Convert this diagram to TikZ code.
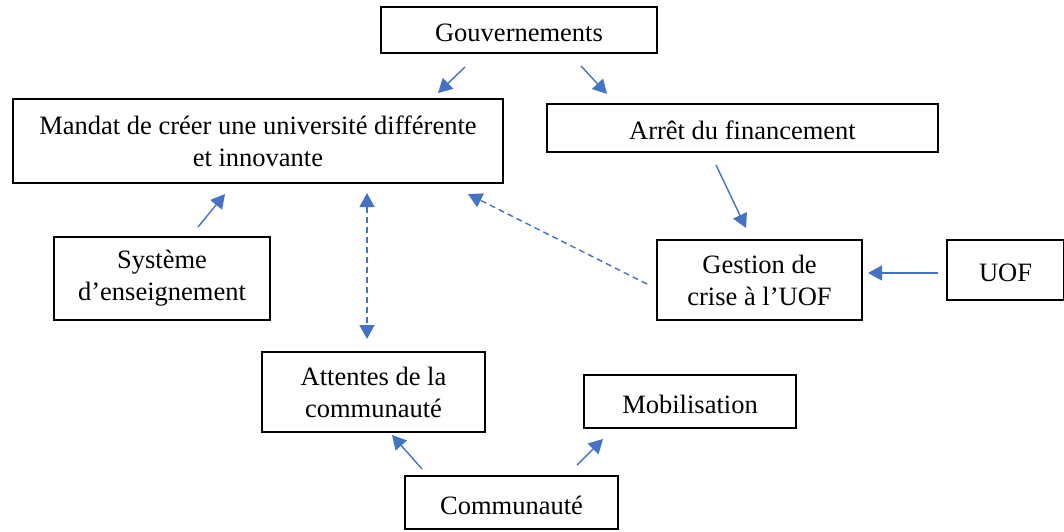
\documentclass[tikz,border=0pt]{standalone}
\usepackage{fontspec}
\setmainfont{Liberation Serif}
\usetikzlibrary{arrows.meta}
\definecolor{arrowblue}{HTML}{4472C4}
\tikzset{
  box/.style={draw=black, line width=1.3pt, inner sep=0pt, align=center,
    font=\fontsize{26.5}{32}\selectfont, execute at begin node={\rule{0pt}{24pt}}},
  box2/.style={box, execute at begin node={\rule{0pt}{28pt}}},
  link/.style={draw=arrowblue, line width=1.4pt, -{Triangle[length=14pt,width=15pt]}},
  dlink/.style={link, dash pattern=on 6pt off 4pt},
  ddlink/.style={dlink, {Triangle[length=14pt,width=15pt]}-{Triangle[length=14pt,width=15pt]}}
}
\begin{document}
\begin{tikzpicture}[x=1pt,y=-1pt]
\useasboundingbox (0,0) rectangle (1064,531);
\node[box, minimum width=276pt, minimum height=46pt] (gov) at (519,30) {Gouvernements};
\node[box2, minimum width=490pt, minimum height=84pt] (man) at (258,141) {Mandat de créer une université différente\\et innovante};
\node[box, minimum width=391pt, minimum height=48pt] (arr) at (742.5,128) {Arrêt du financement};
\node[box2, minimum width=216pt, minimum height=83pt] (sys) at (162,278.5) {Système\\d’enseignement};
\node[box2, minimum width=205pt, minimum height=80pt] (ges) at (759.5,280) {Gestion de\\crise à l’UOF};
\node[box, minimum width=117pt, minimum height=60pt] (uof) at (1005.5,270) {UOF};
\node[box2, minimum width=223pt, minimum height=80pt] (att) at (373.5,392) {Attentes de la\\communauté};
\node[box, minimum width=212pt, minimum height=53pt] (mob) at (690,401.5) {Mobilisation};
\node[box, minimum width=213pt, minimum height=53pt] (com) at (511.5,502.5) {Communauté};

\coordinate (a1s) at (465,67);  \coordinate (a1e) at (438,93);
\coordinate (a2s) at (581,66);  \coordinate (a2e) at (607,94);
\coordinate (a3s) at (716,165); \coordinate (a3e) at (746,228);
\coordinate (a4s) at (198,227); \coordinate (a4e) at (225,194);
\coordinate (a5s) at (367,193); \coordinate (a5e) at (367,339);
\coordinate (a6s) at (647,284); \coordinate (a6e) at (468,194);
\coordinate (a7s) at (938,273); \coordinate (a7e) at (868,273);
\coordinate (a8s) at (422,469); \coordinate (a8e) at (392,435);
\coordinate (a9s) at (577,465); \coordinate (a9e) at (603,439);

\draw[link] (a1s) -- (a1e);
\draw[link] (a2s) -- (a2e);
\draw[link] (a3s) -- (a3e);
\draw[link] (a4s) -- (a4e);
\draw[ddlink] (a5s) -- (a5e);
\draw[dlink] (a6s) -- (a6e);
\draw[link] (a7s) -- (a7e);
\draw[link] (a8s) -- (a8e);
\draw[link] (a9s) -- (a9e);
\end{tikzpicture}
\end{document}
